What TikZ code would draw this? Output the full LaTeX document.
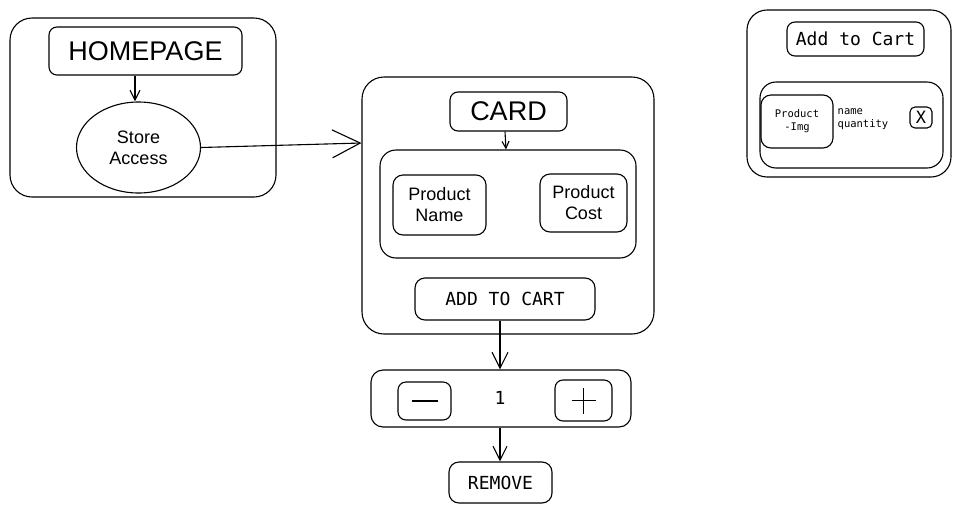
\documentclass[tikz,border=0pt]{standalone}
\usepackage{fontspec}
\setmainfont{Liberation Sans}
\setmonofont{DejaVu Sans Mono}
\usetikzlibrary{arrows.meta, positioning, shapes.geometric}

\tikzset{
	box/.style = {draw, rounded corners=#1, line width=1.1pt, inner sep=0pt, align=center},
	box/.default = 8pt,
	flow/.style = {line width=1.1pt, -{Straight Barb[length=#1, width=#1]}},
	flow/.default = 10pt,
	big/.style = {font=\fontsize{27}{30}\selectfont},
	mid/.style = {font=\fontsize{18}{21}\selectfont},
	code/.style = {font=\ttfamily\fontsize{18}{21}\selectfont},
	tiny/.style = {font=\ttfamily\fontsize{10.5}{13}\selectfont}
}

\begin{document}
\begin{tikzpicture}[x=1pt, y=-1pt]
	\useasboundingbox (0,0) rectangle (961,512);

	% homepage
	\node [box=22pt, minimum width=266pt, minimum height=179pt] (home) at (143,107.5) {};
	\node [box, big, minimum width=193pt, minimum height=48pt] (homepage) at (145.5,51) {HOMEPAGE};
	\node [ellipse, draw, line width=1.1pt, mid, align=center, inner sep=0pt,
		minimum width=124pt, minimum height=91pt] (store) at (138.5,147.5) {Store\\Access};

	% card
	\node [box=22pt, minimum width=292pt, minimum height=257pt] (card) at (508,205.5) {};
	\node [box, big, minimum width=117pt, minimum height=39pt] (cardtitle) at (508.5,111.5) {CARD};
	\node [box=16pt, minimum width=256pt, minimum height=108pt] (info) at (508,204) {};
	\node [box=10pt, mid, minimum width=93pt, minimum height=60pt] (pname) at (439.5,205) {Product\\Name};
	\node [box=10pt, mid, minimum width=87pt, minimum height=58pt] (pcost) at (583.5,203) {Product\\Cost};
	\node [box=10pt, code, minimum width=180pt, minimum height=42pt] (addcart) at (505,299) {ADD TO CART};

	% counter
	\node [box=12pt, minimum width=260pt, minimum height=57pt] (counter) at (501,398.5) {};
	\node [box=8pt, minimum width=53pt, minimum height=38pt] (minus) at (424.5,401) {};
	\node [box=8pt, minimum width=57pt, minimum height=41pt] (plus) at (583.5,400.5) {};
	\node [code] (qty) at (500,398) {1};
	\node [box=10pt, code, minimum width=103pt, minimum height=41pt] (remove) at (500.5,482.5) {REMOVE};

	\draw [line width=1.1pt] ([xshift=-13pt]minus.center) -- ([xshift=13pt]minus.center);
	\draw [line width=1.1pt] ([xshift=-12pt]plus.center) -- ([xshift=12pt]plus.center);
	\draw [line width=1.1pt] ([yshift=-13pt]plus.center) -- ([yshift=13pt]plus.center);

	% cart
	\node [box=20pt, minimum width=204pt, minimum height=167pt] (cart) at (849,93.5) {};
	\node [box=8pt, code, minimum width=137pt, minimum height=34pt] (carttitle) at (855.5,39) {Add to Cart};
	\node [box=16pt, minimum width=183pt, minimum height=86pt] (item) at (851.5,125) {};
	\node [box=10pt, tiny, minimum width=72pt, minimum height=53pt] (pimg) at (797,121.5) {Product\\-Img};
	\node [tiny, align=left, anchor=west, inner sep=0pt] (details) at (837.5,119) {name\\quantity};
	\node [box=5pt, font=\ttfamily\fontsize{17}{20}\selectfont, minimum width=22pt, minimum height=21pt] (close) at (921,117.5) {X};

	% arrows
	\draw [flow] (homepage.south -| 135,0) -- (store.north -| 135,0);
	\draw [flow=28pt] (store.east) -- (card.west |- 0,143);
	\draw [flow=7pt] (cardtitle.south -| 505,0) -- (info.north -| 506,0);
	\draw [flow=16pt] (addcart.south -| 500,0) -- (counter.north -| 500,0);
	\draw [flow=14pt] (counter.south -| 500,0) -- (remove.north -| 500,0);
\end{tikzpicture}
\end{document}
